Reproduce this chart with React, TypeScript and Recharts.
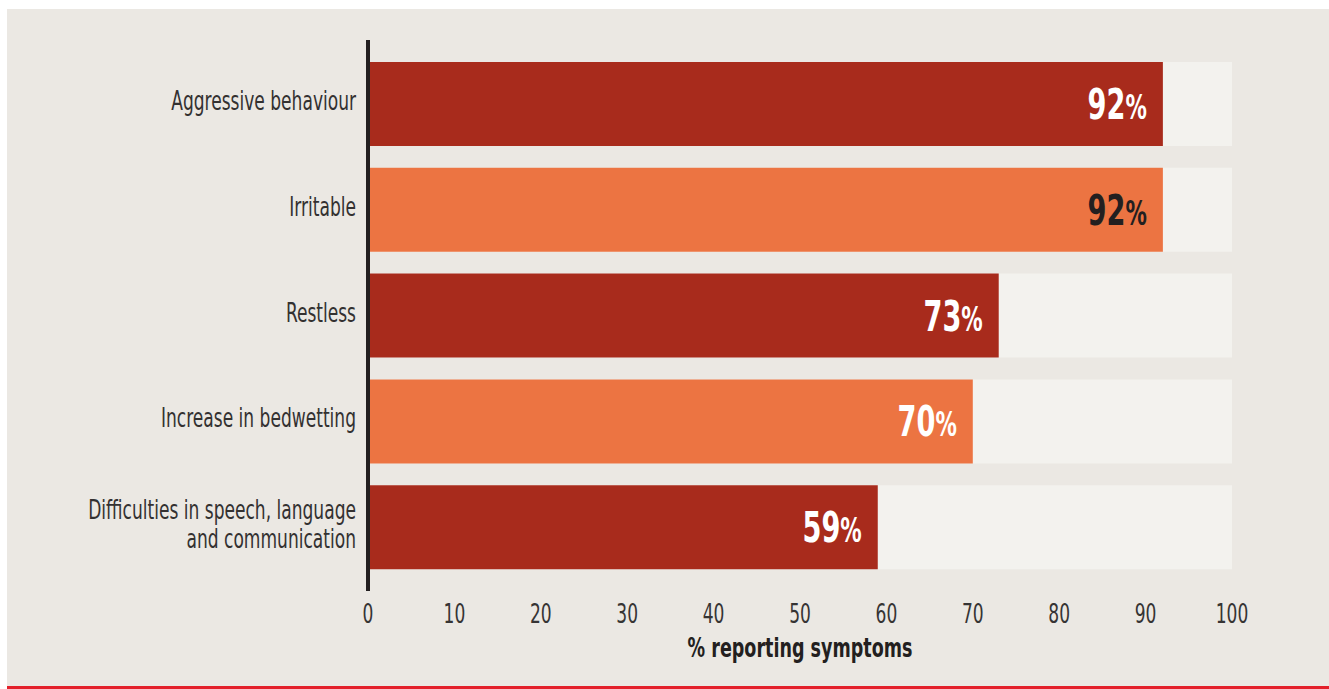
import React from 'react';
import { BarChart, Bar, XAxis, YAxis, Cell, LabelList, Label } from 'recharts';

const categories = [
  'Aggressive behaviour',
  'Irritable',
  'Restless',
  'Increase in bedwetting',
  'Difficulties in speech, language\nand communication',
];
const values = [92, 92, 73, 70, 59];
const xTicks = [0, 10, 20, 30, 40, 50, 60, 70, 80, 90, 100];
const xAxisTitle = '% reporting symptoms';

const COLORS = ['#a82b1c', '#ec7442', '#a82b1c', '#ec7442', '#a82b1c'];
const LABEL_COLORS = ['#ffffff', '#231f20', '#ffffff', '#ffffff', '#ffffff'];

// no condensed web font offline, so squeeze DejaVu Condensed a bit
const FONT = "'DejaVu Sans Condensed', 'DejaVu Sans', sans-serif";
const INK = '#231f20';
const SQUEEZE = 0.73;

const data = categories.map((name, i) => ({ name, value: values[i] }));

function CategoryTick(props: any) {
  const { y, payload } = props;
  const lines: string[] = String(payload.value).split('\n');
  const first = lines.length === 1 ? 6 : -8;
  return (
    <text
      transform={`translate(349 ${y}) scale(${SQUEEZE} 1)`}
      textAnchor="end"
      fontFamily={FONT}
      fontSize={26}
      fill="#333131"
    >
      {lines.map((line, i) => (
        <tspan key={i} x={0} y={first + i * 29}>
          {line}
        </tspan>
      ))}
    </text>
  );
}

function NumberTick(props: any) {
  const { x, payload } = props;
  return (
    <text
      transform={`translate(${x} 614) scale(${SQUEEZE} 1)`}
      textAnchor="middle"
      fontFamily={FONT}
      fontSize={26}
      fill="#363434"
    >
      {payload.value}
    </text>
  );
}

function ValueLabel(props: any) {
  const { x, y, width, height, value, index } = props;
  return (
    <text
      transform={`translate(${x + width - 16} ${y + height / 2 + 15}) scale(0.72 1)`}
      textAnchor="end"
      fontFamily={FONT}
      fontWeight="bold"
      fill={LABEL_COLORS[index] || '#fff'}
    >
      <tspan fontSize={42}>{value}</tspan>
      <tspan fontSize={33}>%</tspan>
    </text>
  );
}

export default function App() {
  return (
    <div style={{ position: 'fixed', left: 0, top: 0, width: 1329, height: 689, background: '#fff' }}>
      <div
        style={{
          position: 'absolute',
          left: 7,
          top: 9,
          width: 1322,
          height: 677,
          background: '#ebe8e3',
          borderBottom: '3px solid #e3202a',
        }}
      >
        <BarChart
          width={1322}
          height={677}
          data={data}
          layout="vertical"
          margin={{ top: 31, right: 97, bottom: 0, left: 0 }}
        >
          <XAxis
            type="number"
            domain={[0, 100]}
            ticks={xTicks}
            axisLine={false}
            tickLine={false}
            height={95}
            tick={<NumberTick />}
          >
            <Label
              content={({ viewBox }: any) => (
                <text
                  transform={`translate(${viewBox.x + viewBox.width / 2} 648) scale(0.75 1)`}
                  textAnchor="middle"
                  fontFamily={FONT}
                  fontWeight="bold"
                  fontSize={26}
                  fill={INK}
                >
                  {xAxisTitle}
                </text>
              )}
            />
          </XAxis>
          <YAxis
            type="category"
            dataKey="name"
            width={361}
            axisLine={{ stroke: INK, strokeWidth: 4 }}
            tickLine={false}
            padding={{ top: 11, bottom: 11 }}
            tick={<CategoryTick />}
            interval={0}
          />
          <Bar
            dataKey="value"
            barSize={84}
            isAnimationActive={false}
            background={{ fill: '#f3f2ee' }}
          >
            {data.map((_, i) => (
              <Cell key={i} fill={COLORS[i]} />
            ))}
            <LabelList dataKey="value" content={<ValueLabel />} />
          </Bar>
        </BarChart>
      </div>
    </div>
  );
}
